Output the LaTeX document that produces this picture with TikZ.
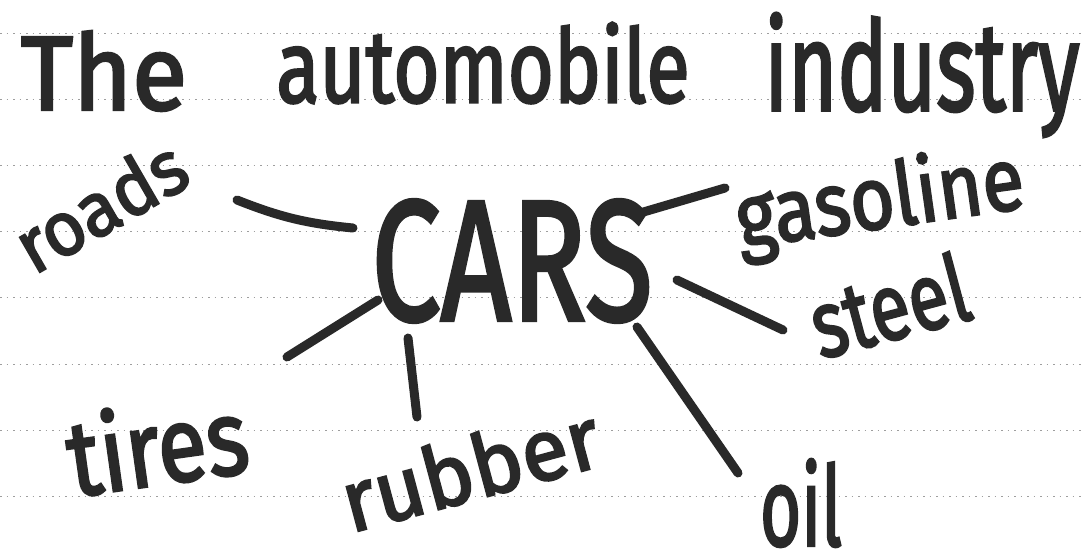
\documentclass[tikz,border=0pt]{standalone}
\usepackage{fontspec}
\usepackage{graphicx}
\setmainfont{Fira Sans}
\newfontfamily\hand{Fira Sans}[FakeBold=2.5]
\definecolor{ink}{gray}{0.16}
\definecolor{rulegray}{gray}{0.62}
\newcommand{\fitword}[3]{\resizebox*{#1pt}{#2pt}{\hand #3}}
\tikzset{
  word/.style={inner sep=0pt, outer sep=0pt, text=ink},
  ruling/.style={draw=rulegray, line width=0.9pt, dash pattern=on 1.5pt off 5pt},
  stroke/.style={draw=ink, line width=9pt, line cap=round},
}
\begin{document}
\begin{tikzpicture}[x=1pt, y=-1pt]
  \useasboundingbox (0,0) rectangle (1085,557);
  \fill[white] (0,0) rectangle (1085,557);
  % ruled paper
  \foreach \yy in {33,99,165,231,297,364,430,496}
    \draw[ruling] (0,\yy) -- (1085,\yy);
  % title
  \node[word] (the)  at (104,71)  {\fitword{166}{80}{The}};
  \node[word] (auto) at (483,63)  {\fitword{413}{81}{automobile}};
  \node[word] (ind)  at (922,75)  {\fitword{315}{124}{industry}};
  % centre word
  \node[word] (cars) at (512,261) {\fitword{281}{122}{CARS}};
  % related words
  \node[word, rotate=30] (roads)    at (100,205) {\fitword{185}{58}{roads}};
  \node[word, rotate=8]  (gasoline) at (880,203) {\fitword{290}{88}{gasoline}};
  \node[word, rotate=15] (steel)    at (889,305) {\fitword{160}{72}{steel}};
  \node[word, rotate=8]  (tires)    at (157,444) {\fitword{181}{84}{tires}};
  \node[word, rotate=15] (rubber)   at (470,468) {\fitword{264}{66}{rubber}};
  \node[word]            (oil)      at (801,503) {\fitword{82}{88}{oil}};
  % connector ends
  \coordinate (r1) at (237,200); \coordinate (r2) at (353,228);
  \coordinate (g1) at (640,213); \coordinate (g2) at (725,188);
  \coordinate (s1) at (677,280); \coordinate (s2) at (783,330);
  \coordinate (t1) at (287,357); \coordinate (t2) at (378,300);
  \coordinate (u1) at (408,338); \coordinate (u2) at (417,417);
  \coordinate (o1) at (637,327); \coordinate (o2) at (738,473);
  % connectors
  \draw[stroke] (r1) to[bend right=8] (r2);
  \draw[stroke] (g1) -- (g2);
  \draw[stroke] (s1) -- (s2);
  \draw[stroke] (t1) -- (t2);
  \draw[stroke] (u1) -- (u2);
  \draw[stroke] (o1) -- (o2);
\end{tikzpicture}
\end{document}
